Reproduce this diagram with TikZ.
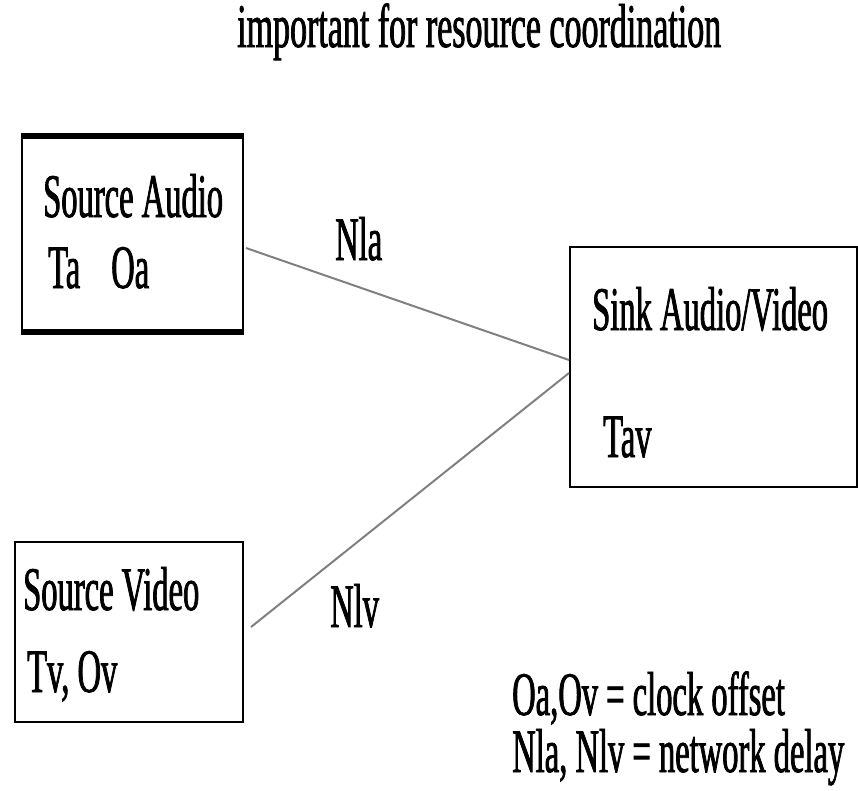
\documentclass[tikz,border=0pt]{standalone}
\usepackage{fontspec}
\usetikzlibrary{calc}
% narrow, heavy Times-like face used for every label
\newfontfamily\cond[FakeStretch=0.525, FakeBold=1.2]{Liberation Serif}
\newfontfamily\condtitle[FakeStretch=0.548, FakeBold=1.2]{Liberation Serif}

\tikzset{
  lbl/.style={anchor=base west, inner sep=0pt, font=\cond\fontsize{62}{64}\selectfont},
  box/.style={draw, line width=2pt, inner sep=0pt},
  link/.style={draw=black!50, line width=2pt},
}

\begin{document}
\begin{tikzpicture}[x=1pt, y=-1pt]
  \useasboundingbox (0,0) rectangle (858,790);

  % title
  \node[lbl, font=\condtitle\fontsize{62}{64}\selectfont] (title) at (237,47) {important for resource coordination};

  % source audio box, heavy top and bottom rules
  \node[box, minimum width=221pt, minimum height=194pt] (sa) at (132.5,234) {};
  \draw[line width=6pt] (sa.north west) -- (sa.north east);
  \draw[line width=6pt] (sa.south west) -- (sa.south east);
  \node[lbl] (saname) at (43,217) {Source Audio};
  \node[lbl] (saparams) at (48,288) {Ta\hspace{31pt}Oa};

  % sink box
  \node[box, minimum width=287pt, minimum height=240pt] (sk) at (713.5,367) {};
  \node[lbl] (skname) at (592,330) {Sink Audio/Video};
  \node[lbl] (skparams) at (603,457) {Tav};

  % source video box
  \node[box, minimum width=228pt, minimum height=180pt] (sv) at (129,632) {};
  \node[lbl] (svname) at (23,610) {Source Video};
  \node[lbl] (svparams) at (27,692) {Tv, Ov};

  % network links
  \coordinate (a1) at ($(sa.east)+(2,14)$);
  \coordinate (a2) at ($(sk.west)+(0,-7)$);
  \coordinate (v1) at ($(sv.east)+(7,-5)$);
  \coordinate (v2) at ($(sk.west)+(0,6)$);
  \draw[link] (a1) -- (a2);
  \draw[link] (v1) -- (v2);
  \node[lbl] (nla) at (335,260) {Nla};
  \node[lbl] (nlv) at (330,627) {Nlv};

  % legend
  \node[lbl] (leg1) at (512,715) {Oa,Ov = clock offset};
  \node[lbl] (leg2) at (512,772) {Nla, Nlv = network delay};
\end{tikzpicture}
\end{document}
